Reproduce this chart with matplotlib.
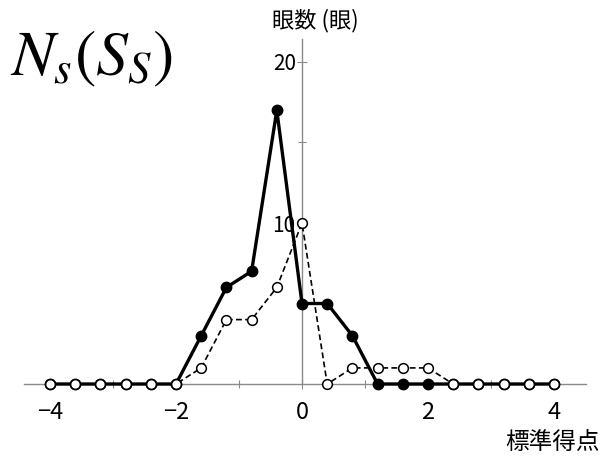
import matplotlib
matplotlib.use('Agg')
from matplotlib import pyplot as plt

plt.rcParams['font.family'] = ['Noto Sans CJK JP', 'DejaVu Sans']
plt.rcParams['mathtext.fontset'] = 'stix'

# standard score bins and eye counts
scores = [-4.0, -3.6, -3.2, -2.8, -2.4, -2.0, -1.6, -1.2, -0.8, -0.4, 0.0,
          0.4, 0.8, 1.2, 1.6, 2.0, 2.4, 2.8, 3.2, 3.6, 4.0]
eyes_filled = [0, 0, 0, 0, 0, 0, 3, 6, 7, 17, 5, 5, 3, 0, 0, 0, 0, 0, 0, 0, 0]
eyes_open = [0, 0, 0, 0, 0, 0, 1, 4, 4, 6, 10, 0, 1, 1, 1, 1, 0, 0, 0, 0, 0]

xticks = [-4, -2, 0, 2, 4]
xtick_labels = ['\u22124', '\u22122', '0', '2', '4']
xminor = [-3, -1, 1, 3]
yticks = [10, 20]
yminor = [5, 15]

fig = plt.figure(figsize=(6.04, 4.65), dpi=100)
ax = fig.add_axes([0, 0, 1, 1])
ax.set_xlim(-4.794, 4.794)
ax.set_ylim(-5.03, 23.85)

gray = '#8a8a8a'
for s in ['top', 'right']:
    ax.spines[s].set_visible(False)
ax.spines['left'].set_position(('data', 0))
ax.spines['bottom'].set_position(('data', 0))
ax.spines['left'].set_bounds(0, 21.4)
ax.spines['bottom'].set_bounds(-4.42, 4.51)
for s in ['left', 'bottom']:
    ax.spines[s].set_color(gray)
    ax.spines[s].set_linewidth(1.0)
    ax.spines[s].set_zorder(1)

ax.set_xticks(xticks)
ax.set_xticklabels(xtick_labels, fontsize=17)
ax.set_xticks(xminor, minor=True)
ax.set_yticks(yticks)
ax.set_yticklabels([str(v) for v in yticks], fontsize=15)
ax.set_yticks(yminor, minor=True)
ax.tick_params(which='both', direction='inout', color=gray, width=0.8)
ax.tick_params(which='major', length=7)
ax.tick_params(which='minor', length=6)
ax.tick_params(axis='x', pad=9)
ax.tick_params(axis='y', pad=1)

ax.plot(scores, eyes_filled, color='black', lw=2.4, marker='o', ms=7.5,
        mfc='black', mec='black', zorder=3)
ax.plot(scores, eyes_open, color='black', lw=1.2, ls=(0, (3.5, 2)), marker='o',
        ms=7, mfc='white', mec='black', mew=1.1, zorder=4)

fig.text(315 / 604, 1 - 21 / 465, '眼数 (眼)', fontsize=16, ha='center', va='center')
fig.text(600 / 604, 1 - 442 / 465, '標準得点', fontsize=17, ha='right', va='center')
fig.text(10 / 604, 1 - 57 / 465, r'$N_s(S_S)$', fontsize=46, ha='left', va='center')

fig.savefig('out.png', dpi=100)
